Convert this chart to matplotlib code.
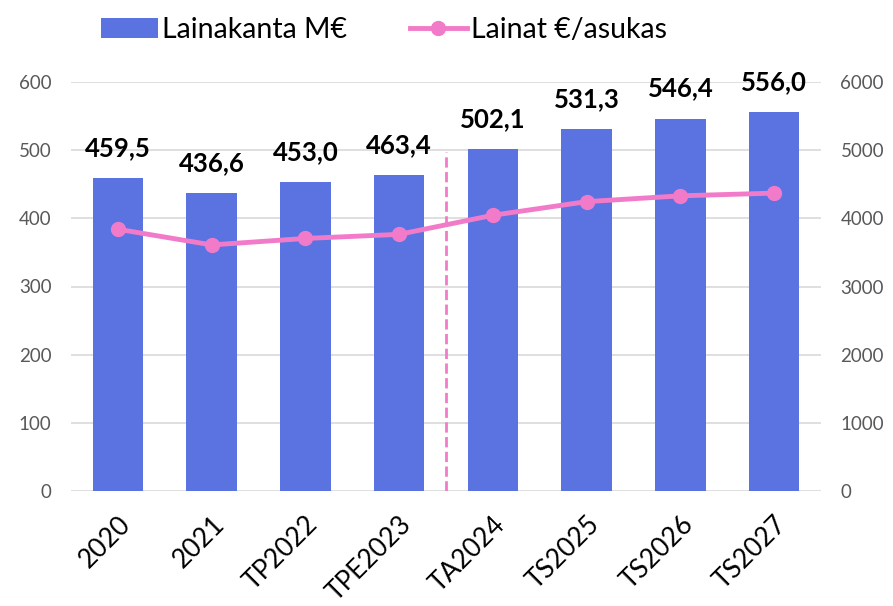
import matplotlib.pyplot as plt
import numpy as np

# chart data
categories = ["2020", "2021", "TP2022", "TPE2023", "TA2024", "TS2025", "TS2026", "TS2027"]
lainakanta = [459.5, 436.6, 453.0, 463.4, 502.1, 531.3, 546.4, 556.0]
lainat_per_asukas = [3840, 3610, 3705, 3765, 4045, 4245, 4330, 4370]
bar_labels = ["459,5", "436,6", "453,0", "463,4", "502,1", "531,3", "546,4", "556,0"]

bar_color = "#5A73E0"
line_color = "#F27BC9"
grid_color = "#D9D9D9"
tick_color = "#595959"

plt.rcParams['font.family'] = ['Lato', 'DejaVu Sans']

fig = plt.figure(figsize=(8.93, 6.06), dpi=100)
ax = fig.add_axes([71 / 893, 1 - 491 / 606, 750 / 893, 409 / 606])
x = np.arange(len(categories))

bars = ax.bar(x, lainakanta, width=0.54, color=bar_color, zorder=2, label="Lainakanta M€")
ax.set_ylim(0, 600)
ax.set_xlim(-0.5, len(categories) - 0.5)
ax.set_yticks(range(0, 601, 100))
ax.grid(axis='y', color=grid_color, linewidth=1.2, zorder=0)
ax.set_axisbelow(True)
for s in ax.spines.values():
    s.set_visible(False)
ax.tick_params(axis='y', length=0, labelsize=13.5, labelcolor=tick_color, pad=14)
ax.tick_params(axis='x', length=0, pad=15)
ax.set_xticks(x)
ax.set_xticklabels(categories, rotation=45, ha='right', rotation_mode='anchor', fontsize=19)

for xi, v, lab in zip(x, lainakanta, bar_labels):
    ax.annotate(lab, (xi, v), xytext=(0, 13), textcoords='offset points', ha='center', va='bottom',
                fontsize=18.5, fontweight='bold', clip_on=False)

# dashed divider between actuals and forecasts
ax.plot([3.5, 3.5], [0, 497], color=line_color, linestyle='--', linewidth=2, zorder=3)

ax2 = ax.twinx()
ax2.plot(x, lainat_per_asukas, color=line_color, linewidth=3.5, marker='o', markersize=10,
         zorder=4, label="Lainat €/asukas")
ax2.set_ylim(0, 6000)
ax2.set_yticks(range(0, 6001, 1000))
for s in ax2.spines.values():
    s.set_visible(False)
ax2.tick_params(axis='y', length=0, labelsize=13.5, labelcolor=tick_color, pad=14)

handles = [bars, ax2.get_lines()[0]]
fig.legend(handles, ["Lainakanta M€", "Lainat €/asukas"], loc='upper center',
           bbox_to_anchor=(0.43, 1.015), ncol=2, frameon=False, fontsize=20.5,
           handlelength=2.0, columnspacing=2.2, handletextpad=0.15)

fig.savefig("out.png", dpi=100)
